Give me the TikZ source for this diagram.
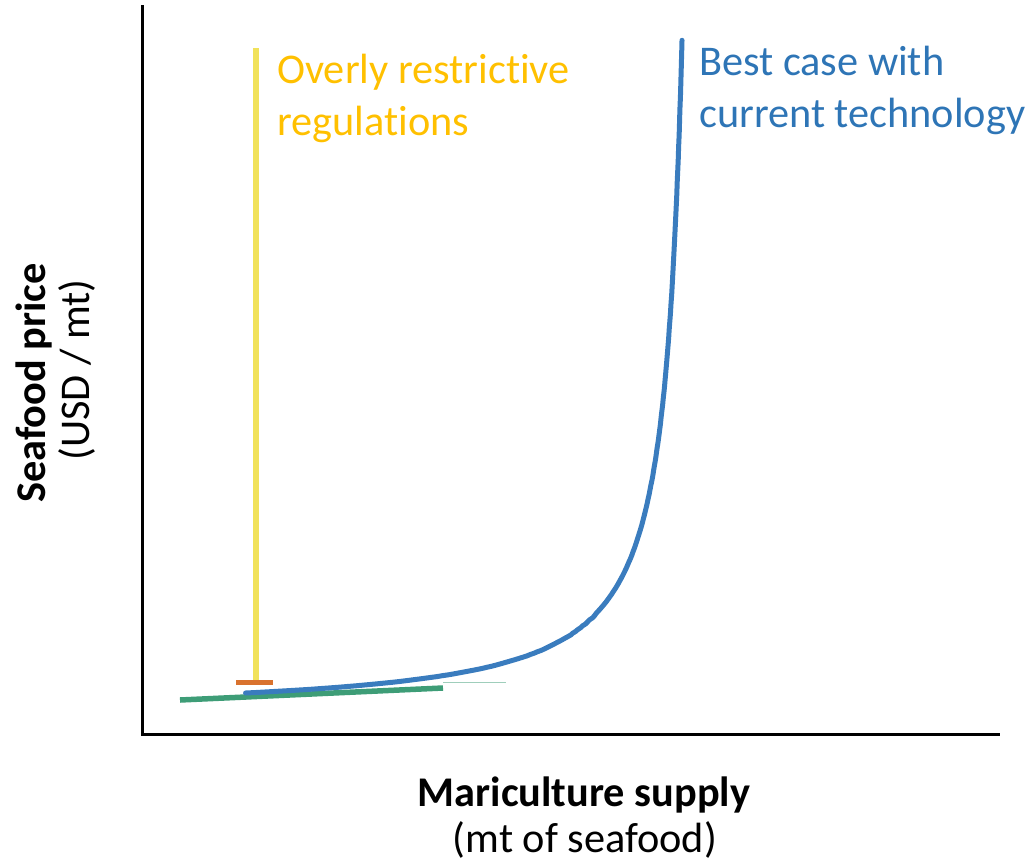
\documentclass[tikz,border=0pt]{standalone}
\usepackage{fontspec}
\setmainfont{Carlito}[Ligatures=NoCommon]
\definecolor{axisblue}{HTML}{2E75B6}
\definecolor{curveblue}{HTML}{3A7CBE}
\definecolor{regyellow}{HTML}{FFC000}
\definecolor{lineyellow}{HTML}{F1E25A}
\definecolor{tickorange}{HTML}{D9722E}
\definecolor{flatgreen}{HTML}{3E9D77}
\begin{document}
\begin{tikzpicture}[x=1pt,y=-1pt,
  lbl/.style={inner sep=0pt,font=\fontsize{42.3}{50}\selectfont},
  lblb/.style={lbl,font=\fontsize{42.3}{50}\selectfont\bfseries},
  axisline/.style={line width=3pt,black}]
\useasboundingbox (0,0) rectangle (1028,862);
% axes
\coordinate (top) at (142,5);
\coordinate (origin) at (142,734);
\coordinate (xend) at (1000,734);
\draw[axisline,line cap=butt] (top) -- (origin) -- (xend);
% yellow vertical
\coordinate (ytop) at (256,48);
\coordinate (ybot) at (256,683);
\draw[lineyellow,line width=6pt] (ytop) -- (ybot);
% orange tick
\coordinate (ot1) at (236,682.5);
\coordinate (ot2) at (273,682.5);
\draw[tickorange,line width=5pt] (ot1) -- (ot2);
% green line
\coordinate (g1) at (180,700);
\coordinate (g2) at (443,688);
\draw[flatgreen,line width=5.5pt] (g1) -- (g2);
\coordinate (f1) at (443,682.5);
\coordinate (f2) at (506,682.5);
\draw[flatgreen!50,line width=1pt] (f1) -- (f2);
% blue curve: supply curve x = C + D p - A/(p-20), p = height above axis
\draw[curveblue,line width=5pt,line cap=round]
  plot[smooth,domain=3.091:6.515,samples=160,variable=\t]
  ({692.1 + 0.00646*(20+exp(\t)) - 9843*exp(-\t)}, {715-exp(\t)});
% labels
\node[lbl,text=regyellow,anchor=base west] (r1) at (277,83) {Overly restrictive};
\node[lbl,text=regyellow,anchor=base west] (r2) at (277,135) {regulations};
\node[lbl,text=axisblue,anchor=base west] (b1) at (699,75) {Best case with};
\node[lbl,text=axisblue,anchor=base west] (b2) at (699,127) {current technology};
\node[lblb,anchor=base] (xl1) at (584,806) {Mariculture supply};
\node[lbl,anchor=base] (xl2) at (585,852) {(mt of seafood)};
\node[lblb,anchor=base,rotate=90] (yl1) at (45,383) {Seafood price};
\node[lbl,anchor=base,rotate=90] (yl2) at (89,370) {(USD / mt)};
\end{tikzpicture}
\end{document}
